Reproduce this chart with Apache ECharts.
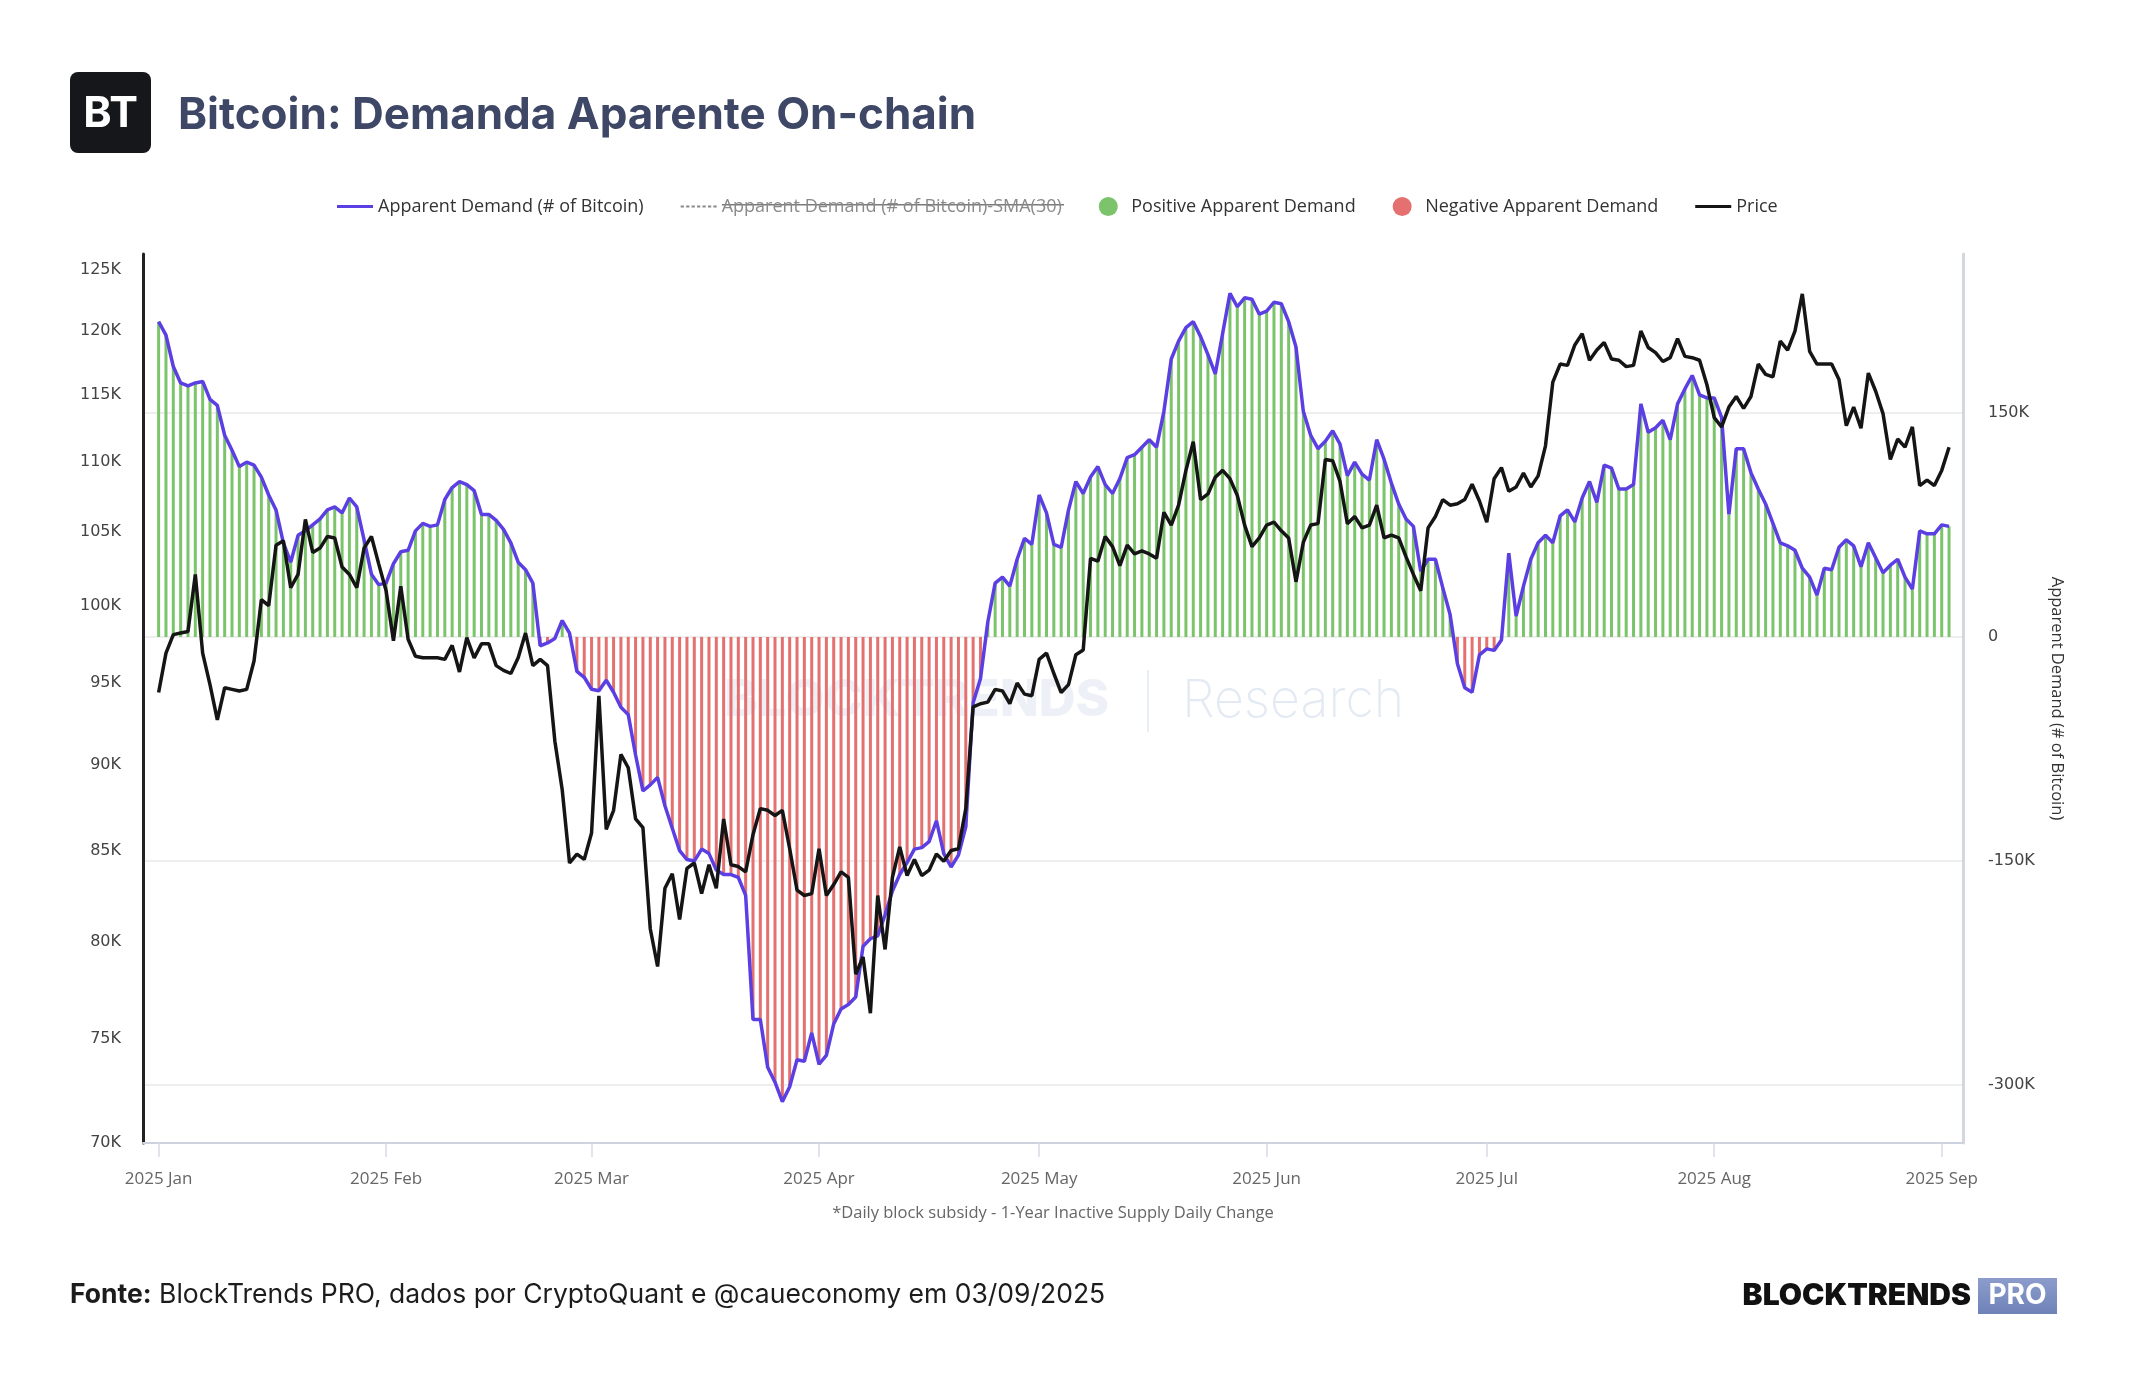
<!DOCTYPE html>
<html>
<head>
<meta charset="utf-8">
<title>Bitcoin: Demanda Aparente On-chain</title>
<script src="https://cdn.jsdelivr.net/npm/echarts@6/dist/echarts.min.js"></script>
<style>
  html, body { margin: 0; padding: 0; background: #fff; }
  #chart { width: 2144px; height: 1400px; }
</style>
</head>
<body>
<div id="chart"></div>
<script>
// ============================================================
// Dados diários a partir de 2025-01-01 (um valor por dia, até 02/09)
// ============================================================
const startDate = '2025-01-01';

// Apparent Demand (# of Bitcoin), em milhares de BTC
const demand = [
  211, 202, 181, 170, 168, 170, 171, 159, 155, 135,
  125, 114, 117, 115, 107, 95, 85, 63, 50, 68,
  71, 75, 79, 85, 87, 83, 93, 87, 65, 42,
  35, 36, 49, 57, 58, 71, 76, 74, 75, 92,
  100, 104, 102, 98, 82, 82, 78, 72, 63, 50,
  45, 36, -6, -4, -1, 11, 2.5, -23, -27, -35,
  -36, -29, -37, -47, -52, -79, -103, -99, -94, -113,
  -128, -143, -149, -150, -142, -145, -156, -159, -159, -161,
  -173, -256, -256, -288, -298, -311, -301, -283, -284, -265,
  -286, -280, -259, -249, -246, -241, -207, -202, -200, -186,
  -170, -159, -151, -142, -141, -137, -123, -145, -154, -146,
  -127, -44, -28, 10, 36, 40, 34, 52, 66, 62,
  95, 83, 62, 60, 85, 104, 96, 107, 114, 102,
  96, 106, 120, 122, 127, 132, 127, 151, 186, 198,
  207, 211, 201, 189, 176, 203, 230, 221, 227, 226,
  216, 218, 224, 223, 211, 194, 151, 135, 126, 131,
  138, 129, 108, 117, 109, 105, 132, 119, 103, 89,
  79, 74, 44, 52, 52, 33, 15, -18, -34, -37,
  -12, -8, -9, -2, 56, 14, 34, 52, 63, 68,
  63, 81, 85, 77, 93, 104, 90, 115, 113, 99,
  99, 102, 156, 137, 140, 145, 132, 156, 166, 175,
  162, 160, 160, 147, 82, 126, 126, 110, 99, 89,
  76, 63, 61, 58, 46, 40, 28, 46, 45, 60,
  65, 61, 47, 63, 53, 43, 48, 52, 40, 32,
  71, 69, 69, 75, 74
];

// Price (USD), em milhares
const price = [
  94.4, 96.9, 98.1, 98.2, 98.3, 102.1, 96.9, 94.9, 92.7, 94.7,
  94.6, 94.5, 94.6, 96.4, 100.4, 100.0, 104.1, 104.4, 101.2, 102.1,
  105.9, 103.6, 103.9, 104.7, 104.6, 102.6, 102.1, 101.2, 103.9, 104.7,
  102.8, 101.0, 97.7, 101.3, 97.8, 96.7, 96.6, 96.6, 96.6, 96.5,
  97.4, 95.7, 97.9, 96.6, 97.5, 97.5, 96.1, 95.8, 95.6, 96.6,
  98.2, 96.1, 96.5, 96.1, 91.4, 88.5, 84.3, 84.8, 84.5, 86.0,
  94.2, 86.2, 87.3, 90.6, 89.8, 86.8, 86.3, 80.7, 78.7, 82.9,
  83.7, 81.2, 84.0, 84.3, 82.6, 84.2, 82.9, 86.8, 84.2, 84.1,
  83.8, 85.9, 87.4, 87.3, 87.0, 87.3, 85.1, 82.8, 82.5, 82.6,
  85.1, 82.5, 83.1, 83.8, 83.5, 78.3, 79.2, 76.3, 82.5, 79.6,
  83.5, 85.2, 83.6, 84.5, 83.6, 83.9, 84.8, 84.4, 85.0, 85.1,
  87.4, 93.5, 93.7, 93.8, 94.6, 94.5, 93.7, 95.0, 94.3, 94.2,
  96.5, 96.9, 95.6, 94.4, 94.9, 96.8, 97.1, 103.2, 103.0, 104.7,
  104.0, 102.7, 104.1, 103.5, 103.7, 103.5, 103.2, 106.4, 105.5, 106.9,
  109.4, 111.5, 107.3, 107.7, 108.9, 109.4, 108.8, 107.6, 105.5, 104.0,
  104.6, 105.5, 105.7, 105.1, 104.6, 101.6, 104.3, 105.5, 105.6, 110.2,
  110.1, 108.6, 105.6, 106.1, 105.3, 105.5, 106.9, 104.6, 104.8, 104.6,
  103.3, 102.1, 101.0, 105.3, 106.1, 107.3, 106.9, 107.0, 107.3, 108.4,
  107.2, 105.7, 108.8, 109.6, 107.9, 108.2, 109.2, 108.2, 109.0, 111.2,
  116.0, 117.4, 117.3, 118.9, 119.8, 117.7, 118.5, 119.1, 117.8, 117.7,
  117.2, 117.3, 120.0, 118.7, 118.3, 117.6, 117.9, 119.4, 118.0, 117.9,
  117.7, 115.8, 113.3, 112.6, 114.1, 114.9, 114.0, 114.9, 117.4, 116.6,
  116.4, 119.2, 118.5, 120.0, 123.0, 118.4, 117.4, 117.4, 117.4, 116.2,
  112.7, 114.1, 112.5, 116.7, 115.3, 113.6, 110.2, 111.7, 111.1, 112.6,
  108.3, 108.7, 108.3, 109.4, 111.1
];

// eixo x: índice do dia desde startDate; marcas no início de cada mês
const monthTicks = [0, 31, 59, 90, 120, 151, 181, 212, 243];
const monthLabels = ['2025 Jan', '2025 Feb', '2025 Mar', '2025 Apr', '2025 May', '2025 Jun', '2025 Jul', '2025 Aug', '2025 Sep'];
const priceTicks = [70, 75, 80, 85, 90, 95, 100, 105, 110, 115, 120, 125];
const demandTicks = [-300, -150, 0, 150];

const SERIES_AD = 'Apparent Demand (# of Bitcoin)';
const SERIES_SMA = 'Apparent Demand (# of Bitcoin)-SMA(30)';
const SERIES_POS = 'Positive Apparent Demand';
const SERIES_NEG = 'Negative Apparent Demand';
const SERIES_PRICE = 'Price';

const demandLine = demand.map((v, i) => [i, v]);
const posBars = demandLine.filter(d => d[1] >= 0);
const negBars = demandLine.filter(d => d[1] < 0);
const priceLine = price.map((v, i) => [i, v]);

const axisFont = 'DejaVu Sans';
const uiFont = 'Open Sans';

const chart = echarts.init(document.getElementById('chart'), null, { renderer: 'canvas' });
chart.setOption({
  animation: false,
  backgroundColor: '#ffffff',
  grid: { left: 143, right: 181, top: 254, bottom: 257, containLabel: false },
  legend: {
    left: 332, top: 192,
    itemWidth: 36, itemHeight: 19, itemGap: 37,
    textStyle: { fontFamily: uiFont, fontSize: 18, color: '#333' },
    inactiveColor: '#8a8a8a',
    selected: { [SERIES_SMA]: false },
    data: [
      { name: SERIES_AD, icon: 'path://M0,0H36V3H0Z' },
      { name: SERIES_SMA, icon: 'path://M0,0H3V2H0Z M5,0H8V2H5Z M10,0H13V2H10Z M15,0H18V2H15Z M20,0H23V2H20Z M25,0H28V2H25Z M30,0H33V2H30Z' },
      { name: SERIES_POS, icon: 'circle' },
      { name: SERIES_NEG, icon: 'circle' },
      { name: SERIES_PRICE, icon: 'path://M0,0H36V3H0Z' }
    ]
  },
  xAxis: {
    type: 'value',
    min: -2.13, max: 245.9,
    axisLine: { show: true, onZero: false, lineStyle: { color: '#ccd2de', width: 2 } },
    axisTick: { show: true, customValues: monthTicks, length: 14, lineStyle: { color: '#d8dce6', width: 1.5 } },
    axisLabel: {
      customValues: monthTicks,
      formatter: v => monthLabels[monthTicks.indexOf(v)] || '',
      color: '#666', fontFamily: uiFont, fontSize: 17, margin: 28
    },
    splitLine: { show: false },
    name: '*Daily block subsidy - 1-Year Inactive Supply Daily Change',
    nameLocation: 'middle', nameGap: 62,
    nameTextStyle: { color: '#666', fontFamily: uiFont, fontSize: 16.5 }
  },
  yAxis: [
    {
      type: 'log', logBase: 10,
      min: 70, max: 126.3,
      position: 'left',
      axisLine: { show: true, onZero: false, lineStyle: { color: '#222', width: 3 } },
      axisTick: { show: false },
      splitLine: { show: false },
      axisLabel: {
        customValues: priceTicks,
        formatter: v => Math.round(v) + 'K',
        color: '#444', fontFamily: axisFont, fontSize: 16, margin: 22
      }
    },
    {
      type: 'value',
      min: -338.7, max: 256.3,
      position: 'right',
      axisLine: { show: true, onZero: false, lineStyle: { color: '#d4d7e0', width: 3 } },
      axisTick: { show: false, customValues: demandTicks },
      splitLine: { show: true, lineStyle: { color: '#eeeeee', width: 2 } },
      axisLabel: {
        customValues: demandTicks,
        formatter: v => (v === 0 ? '0' : v + 'K'),
        color: '#444', fontFamily: axisFont, fontSize: 16, margin: 25
      },
      name: 'Apparent Demand (# of Bitcoin)',
      nameLocation: 'middle', nameRotate: -90, nameGap: 85,
      nameTextStyle: { color: '#333', fontFamily: uiFont, fontSize: 16.5 }
    }
  ],
  series: [
    {
      name: SERIES_POS, type: 'bar', yAxisIndex: 1,
      data: posBars, barWidth: 3,
      itemStyle: { color: '#7cc46b' }
    },
    {
      name: SERIES_NEG, type: 'bar', yAxisIndex: 1,
      data: negBars, barWidth: 3, barGap: '-100%',
      itemStyle: { color: '#e47070' }
    },
    {
      name: SERIES_SMA, type: 'line', yAxisIndex: 1,
      data: [], showSymbol: false,
      lineStyle: { color: '#cfd3da', width: 2, type: 'dashed' },
      itemStyle: { color: '#cfd3da' }
    },
    {
      name: SERIES_AD, type: 'line', yAxisIndex: 1,
      data: demandLine, showSymbol: false,
      lineStyle: { color: '#5b3fe3', width: 3.5 },
      itemStyle: { color: '#5b3fe3' }, z: 3
    },
    {
      name: SERIES_PRICE, type: 'line', yAxisIndex: 0,
      data: priceLine, showSymbol: false,
      lineStyle: { color: '#151515', width: 3.5 },
      itemStyle: { color: '#151515' }, z: 4
    }
  ],
  graphic: [
    // marca d'água
    {
      type: 'group', z: -1, silent: true,
      children: [
        { type: 'text', x: 724, y: 701, style: { text: 'BLOCKTRENDS', font: '800 51px Inter', fill: '#edf1f7', align: 'left', verticalAlign: 'middle', textVerticalAlign: 'middle' } },
        { type: 'rect', shape: { x: 1147, y: 670, width: 2, height: 62 }, style: { fill: '#e9eef5' } },
        { type: 'text', x: 1182, y: 701, style: { text: 'Research', font: '200 52px Inter', fill: '#e4eaf3', align: 'left', verticalAlign: 'middle', textVerticalAlign: 'middle' } }
      ]
    },
    // risco sobre a série oculta na legenda
    { type: 'rect', shape: { x: 722, y: 204, width: 342, height: 1.5 }, style: { fill: '#7a7a7a' }, silent: true },
    // logo + título
    { type: 'rect', shape: { x: 70, y: 72, width: 81, height: 81, r: 8 }, style: { fill: '#16171b' } },
    { type: 'text', x: 110.5, y: 114, style: { text: 'BT', font: 'bold 43px Inter', fill: '#ffffff', align: 'center', textAlign: 'center', verticalAlign: 'middle', textVerticalAlign: 'middle' } },
    { type: 'text', x: 178, y: 116, style: { text: 'Bitcoin: Demanda Aparente On-chain', font: 'bold 44px Inter', fill: '#3e4766', verticalAlign: 'middle', textVerticalAlign: 'middle' } },
    // rodapé
    {
      type: 'text', x: 70, y: 1295,
      style: {
        text: '{b|Fonte:} BlockTrends PRO, dados por CryptoQuant e @caueconomy em 03/09/2025',
        font: '26.5px Inter', fill: '#1c1c1c', verticalAlign: 'middle', textVerticalAlign: 'middle',
        rich: { b: { fontFamily: 'Inter', fontSize: 26.5, fontWeight: 'bold', fill: '#1c1c1c', color: '#1c1c1c' } }
      }
    },
    { type: 'text', x: 1971, y: 1296, style: { text: 'BLOCKTRENDS', font: '900 30px Inter', fill: '#111111', align: 'right', textAlign: 'right', verticalAlign: 'middle', textVerticalAlign: 'middle' } },
    {
      type: 'rect', shape: { x: 1978, y: 1278, width: 79, height: 36 },
      style: { fill: new echarts.graphic.LinearGradient(0, 0, 0, 1, [{ offset: 0, color: '#8c9dcc' }, { offset: 1, color: '#6f82b8' }]) }
    },
    { type: 'text', x: 2017.5, y: 1296, style: { text: 'PRO', font: 'bold 28px Inter', fill: '#ffffff', align: 'center', textAlign: 'center', verticalAlign: 'middle', textVerticalAlign: 'middle' } }
  ]
});
</script>
</body>
</html>
